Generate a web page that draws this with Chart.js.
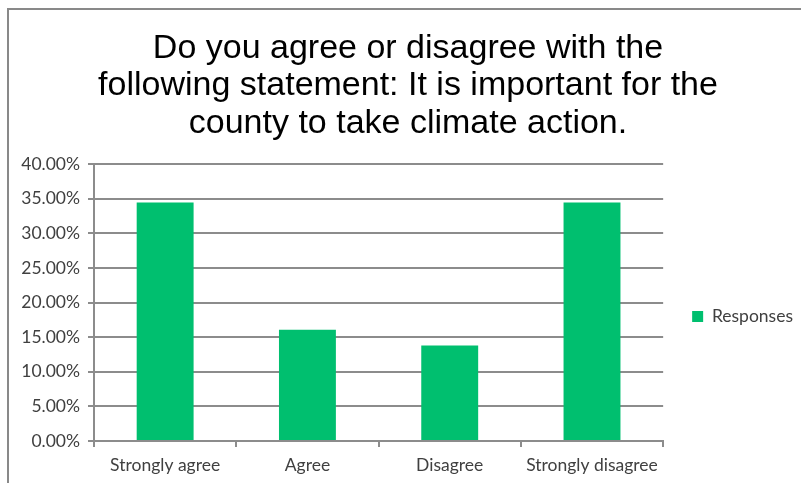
<!DOCTYPE html>
<html>
<head>
<meta charset="utf-8">
<script src="https://cdn.jsdelivr.net/npm/chart.js@4.4.1/dist/chart.umd.min.js"></script>
<style>
  html, body { margin: 0; padding: 0; background: #ffffff; }
  #frame { position: absolute; left: 7px; top: 8px; width: 820px; height: 500px;
           border-left: 2px solid #898989; border-top: 2px solid #898989; box-sizing: border-box; }
  #wrap { position: absolute; left: 0; top: 0; width: 801px; height: 483px; }
</style>
</head>
<body>
<div id="frame"></div>
<div id="wrap"><canvas id="c" width="801" height="483"></canvas></div>
<script>
const categories = ["Strongly agree", "Agree", "Disagree", "Strongly disagree"];
const seriesName = "Responses";
const responses = [34.48, 16.09, 13.79, 34.48];
const titleLines = ["Do you agree or disagree with the", "following statement: It is important for the", "county to take climate action."];
const yTickMin = 0, yTickMax = 40, yTickStep = 5;

const gridColor = "#8c8c8c";
const labelFont = { family: "Lato, 'Open Sans', sans-serif", size: 17.5 };

const blockShift = {
  id: "blockShift",
  afterLayout(chart) {
    const L = chart.legend;
    if (L) { L.left += 19; L.right += 19; }
    const T = chart.titleBlock;
    if (T) { T.left += 11; T.right += 11; }
  }
};

new Chart(document.getElementById("c"), {
  type: "bar",
  data: {
    labels: categories,
    datasets: [{
      label: seriesName,
      data: responses,
      backgroundColor: "#00BF6F",
      borderWidth: 0,
      categoryPercentage: 1.0,
      barPercentage: 0.4
    }]
  },
  plugins: [blockShift],
  options: {
    responsive: false,
    animation: false,
    devicePixelRatio: 1,
    layout: { padding: { left: 10, right: 17, top: 0, bottom: 0 } },
    plugins: {
      title: {
        display: true,
        text: titleLines,
        color: "#000000",
        font: { family: "'Liberation Sans', Arial, sans-serif", size: 34, weight: "normal", lineHeight: 1.1 },
        padding: { top: 30, bottom: 22 }
      },
      legend: {
        display: true,
        position: "right",
        title: { display: true, text: "", font: { size: 10, lineHeight: 1 }, padding: { top: 140, bottom: 0 } },
        labels: {
          boxWidth: 11, boxHeight: 11, color: "#404040",
          font: labelFont, padding: 10
        }
      },
      tooltip: { enabled: false }
    },
    scales: {
      x: {
        grid: { display: true, drawOnChartArea: false, drawTicks: true, tickLength: 6, color: gridColor, lineWidth: 2, offset: true },
        border: { display: true, color: gridColor, width: 2 },
        ticks: { color: "#404040", font: labelFont, padding: 8, maxRotation: 0 },
        afterFit: (s) => { s.height = 42; }
      },
      y: {
        min: yTickMin, max: yTickMax,
        grid: { display: true, drawTicks: true, tickLength: 6, color: gridColor, lineWidth: 2 },
        border: { display: true, color: gridColor, width: 2 },
        ticks: {
          stepSize: yTickStep, color: "#404040", font: labelFont, padding: 8,
          callback: (v) => v.toFixed(2) + "%"
        },
        afterFit: (s) => { s.width = 84; }
      }
    }
  }
});
</script>
</body>
</html>
